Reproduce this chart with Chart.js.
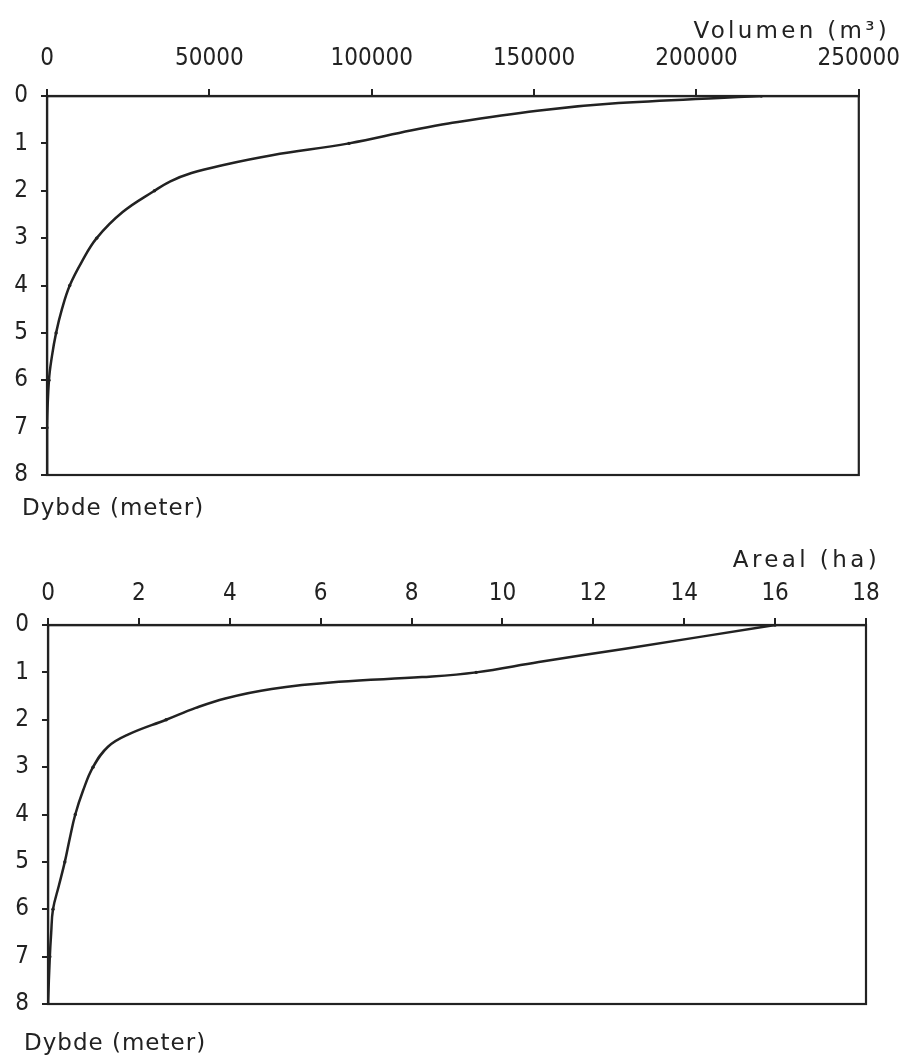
<!DOCTYPE html>
<html><head><meta charset="utf-8">
<script src="https://cdn.jsdelivr.net/npm/chart.js@4/dist/chart.umd.min.js"></script>
<style>
html,body{margin:0;padding:0;background:#fff;}
#wrap{position:relative;width:916px;height:1055px;background:#fff;overflow:hidden;}
.c{position:absolute;left:0;width:916px;}
</style></head><body>
<div id="wrap">
<div class="c" style="top:0;height:529px"><canvas id="c1"></canvas></div>
<div class="c" style="top:529px;height:526px"><canvas id="c2"></canvas></div>
</div>
<script>
// ---- data (dots are at whole metres) ----
const volumeDepths = [0, 0.15, 0.31, 0.58, 0.73, 1, 1.25, 1.46, 1.625, 1.8, 2, 2.45, 3, 3.5, 4, 4.5, 5, 5.5, 6, 7, 8];
const volume = [220000, 176000, 151000, 123600, 112000, 93000, 69300, 54000, 44500, 38000, 33100, 23300, 15300, 10700, 7000, 4600, 2800, 1500, 600, 0, 0];
const areaDepths = [0, 0.5, 0.78, 1, 1.1, 1.2, 1.35, 1.55, 1.75, 2, 2.31, 2.57, 3, 3.5, 4, 4.5, 5, 5.5, 6, 6.5, 7, 8];
const area = [16.0, 12.7, 10.8, 9.42, 8.23, 6.4, 4.92, 3.9, 3.25, 2.6, 1.77, 1.32, 0.99, 0.77, 0.6, 0.48, 0.37, 0.24, 0.11, 0.07, 0.04, 0];
const volumeTicks = [0, 50000, 100000, 150000, 200000, 250000];
const areaTicks = [0, 2, 4, 6, 8, 10, 12, 14, 16, 18];
const depthTicks = [0, 1, 2, 3, 4, 5, 6, 7, 8];
const volumeTitle = 'Volumen (m³)';
const areaTitle = 'Areal (ha)';
const depthTitle = 'Dybde (meter)';

const INK = '#222';
const tickFont = {family: "'DejaVu Sans Condensed', 'DejaVu Sans', sans-serif", size: 24};

function makeChart(id, ds, xs, xMax, xTicks, xTitle, cfg) {
  const frame = {
    id: 'frame',
    afterDraw(chart) {
      const {ctx, chartArea: a} = chart;
      ctx.save();
      ctx.strokeStyle = INK;
      ctx.lineWidth = 2.2;
      ctx.strokeRect(a.left, a.top, a.right - a.left, a.bottom - a.top);
      ctx.fillStyle = INK;
      ctx.font = "23px 'DejaVu Sans', sans-serif";
      ctx.textBaseline = 'alphabetic';
      ctx.textAlign = 'right';
      ctx.letterSpacing = cfg.titleSpacing;
      ctx.fillText(xTitle, cfg.titleRight, cfg.titleBase);
      ctx.textAlign = 'left';
      ctx.letterSpacing = '1px';
      ctx.fillText(depthTitle, cfg.depthLeft, cfg.depthBase);
      ctx.restore();
    }
  };
  return new Chart(document.getElementById(id), {
    type: 'line',
    data: {
      datasets: [{
        data: ds.map((d, i) => ({x: xs[i], y: d})),
        borderColor: INK,
        backgroundColor: INK,
        borderWidth: 2.5,
        pointRadius: c => (c.raw && Number.isInteger(c.raw.y)) ? 1.7 : 0,
        pointBorderWidth: 0,
        tension: 0.4,
        fill: false
      }]
    },
    options: {
      indexAxis: 'y',
      responsive: true,
      maintainAspectRatio: false,
      animation: false,
      events: [],
      layout: {padding: {left: 0, top: 0, right: cfg.padRight, bottom: cfg.padBottom}},
      plugins: {legend: {display: false}, tooltip: {enabled: false}},
      scales: {
        x: {
          type: 'linear', position: 'top', min: 0, max: xMax,
          afterBuildTicks: s => { s.ticks = xTicks.map(v => ({value: v})); },
          afterFit: s => { s.height = cfg.top; },
          ticks: {font: tickFont, color: INK, padding: cfg.xPad, maxRotation: 0, autoSkip: false,
                  callback: v => String(v)},
          grid: {display: true, drawOnChartArea: false, drawTicks: true, tickLength: 7, color: INK, lineWidth: 2},
          border: {display: true, color: INK, width: 2.2}
        },
        y: {
          type: 'linear', reverse: true, min: 0, max: 8,
          afterBuildTicks: s => { s.ticks = depthTicks.map(v => ({value: v})); },
          afterFit: s => { s.width = cfg.left; },
          ticks: {font: tickFont, color: INK, padding: 13, autoSkip: false, callback: v => String(v)},
          grid: {display: true, drawOnChartArea: false, drawTicks: true, tickLength: 6, color: INK, lineWidth: 2},
          border: {display: true, color: INK, width: 2.2}
        }
      }
    },
    plugins: [frame]
  });
}

makeChart('c1', volumeDepths, volume, 250000, volumeTicks, volumeTitle,
  {top: 96, left: 47, padRight: 54, padBottom: 54, xPad: 16, titleSpacing: '3.3px',
   titleRight: 890, titleBase: 38, depthLeft: 22, depthBase: 515});
makeChart('c2', areaDepths, area, 18, areaTicks, areaTitle,
  {top: 96, left: 48, padRight: 50, padBottom: 51, xPad: 10, titleSpacing: '3.4px',
   titleRight: 880, titleBase: 38, depthLeft: 24, depthBase: 521});
</script>
</body></html>
